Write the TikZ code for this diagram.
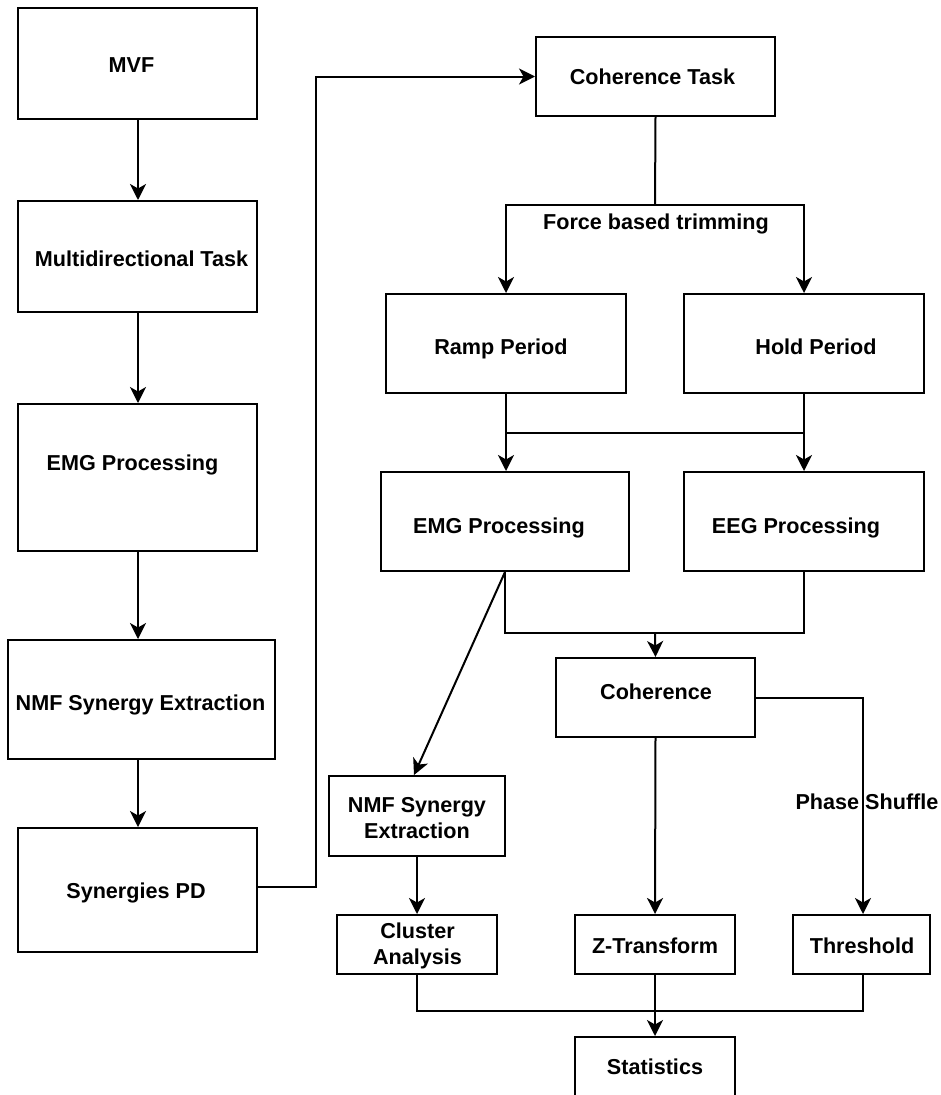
\documentclass[tikz,border=0pt]{standalone}
\usepackage{fontspec}
\setmainfont{Liberation Sans}
\usetikzlibrary{arrows.meta}
\tikzset{
  box/.style={draw=black, line width=2pt, rectangle, inner sep=0pt},
  txt/.style={inner sep=0pt, font=\bfseries\fontsize{21.6}{26}\selectfont, text height=15.5pt, text depth=0pt},
  txttwo/.style={inner sep=0pt, font=\bfseries\fontsize{21.6}{26}\selectfont, align=center},
  conn/.style={draw=black, line width=2pt},
  arr/.style={conn, -{Stealth[length=16pt,width=16pt,inset=4.5pt]}}
}
\begin{document}
\begin{tikzpicture}[x=1pt,y=-1pt]
\useasboundingbox (0,0) rectangle (941,1095);
\clip (0,0) rectangle (941,1095);
\fill[white] (0,0) rectangle (941,1095);
% left column
\node[box, minimum width=239pt, minimum height=111pt] (mvf) at (137.5,63.5) {};
\node[txt] (mvft) at (131.5,65) {MVF};
\node[box, minimum width=239pt, minimum height=111pt] (multi) at (137.5,256.5) {};
\node[txt] (multit) at (141.5,259) {Multidirectional Task};
\node[box, minimum width=239pt, minimum height=147pt] (emgL) at (137.5,477.5) {};
\node[txt] (emgLt) at (132.5,463) {EMG Processing};
\node[box, minimum width=267pt, minimum height=119pt] (nmfL) at (141.5,699.5) {};
\node[txt] (nmfLt) at (140.5,703) {NMF Synergy Extraction};
\node[box, minimum width=239pt, minimum height=124pt] (syn) at (137.5,890) {};
\node[txt] (synt) at (136,891) {Synergies PD};
% right part
\node[box, minimum width=239pt, minimum height=79pt] (cohT) at (655.5,76.5) {};
\node[txt] (cohTt) at (652.5,77) {Coherence Task};
\node[box, minimum width=240pt, minimum height=99pt] (ramp) at (506,343.5) {};
\node[txt] (rampt) at (501,347) {Ramp Period};
\node[box, minimum width=240pt, minimum height=99pt] (hold) at (804,343.5) {};
\node[txt] (holdt) at (816,347) {Hold Period};
\node[box, minimum width=248pt, minimum height=99pt] (emgR) at (505,521.5) {};
\node[txt] (emgRt) at (499,526) {EMG Processing};
\node[box, minimum width=240pt, minimum height=99pt] (eeg) at (804,521.5) {};
\node[txt] (eegt) at (796,526) {EEG Processing};
\node[box, minimum width=199pt, minimum height=79pt] (coh) at (655.5,697.5) {};
\node[txt] (coht) at (656,692) {Coherence};
\node[box, minimum width=176pt, minimum height=80pt] (nmfR) at (417,816) {};
\node[txttwo] (nmfRt) at (417,818) {NMF Synergy\\Extraction};
\node[box, minimum width=160pt, minimum height=59pt] (clu) at (417,944.5) {};
\node[txttwo] (clut) at (417.5,946) {Cluster\\Analysis};
\node[box, minimum width=160pt, minimum height=59pt] (zt) at (655,944.5) {};
\node[txt] (ztt) at (655,946) {Z-Transform};
\node[box, minimum width=137pt, minimum height=59pt] (thr) at (861.5,944.5) {};
\node[txt] (thrt) at (862,946) {Threshold};
\node[box, minimum width=160pt, minimum height=90pt] (stats) at (655,1082) {};
\node[txt] (statst) at (655,1067) {Statistics};
% labels
\node[txt] (force) at (656,222) {Force based trimming};
\node[txt] (phase) at (867,802) {Phase Shuffle};
% coordinates
\coordinate (loopx) at (316,500);
\coordinate (split) at (655,205);
\coordinate (j1) at (0,433);
\coordinate (j2) at (655,633);
\coordinate (j3) at (655,1011);
% left connectors
\draw[arr] (mvf.south -| 138,0) -- (multi.north -| 138,0);
\draw[arr] (multi.south -| 138,0) -- (emgL.north -| 138,0);
\draw[arr] (emgL.south -| 138,0) -- (nmfL.north -| 138,0);
\draw[arr] (nmfL.south -| 138,0) -- (syn.north -| 138,0);
\draw[arr] (syn.east |- 0,887) -| (loopx) |- (cohT.west);
% right connectors
\draw[conn] (cohT.south) -- (split);
\draw[arr] (split) -| (ramp.north);
\draw[arr] (split) -| (hold.north);
\draw[arr] (ramp.south) -- (emgR.north -| ramp.south);
\draw[arr] (hold.south) -- (eeg.north);
\draw[conn] (ramp.south |- j1) -- (hold.south |- j1);
\draw[conn] (emgR.south) |- (j2) -| (eeg.south);
\draw[arr] (j2) -- (coh.north);
\draw[arr] (emgR.south) -- (nmfR.north -| 414,0);
\draw[arr] (nmfR.south) -- (clu.north);
\draw[arr] (coh.south) -- (zt.north);
\draw[arr] (coh.east) -| (thr.north -| 863,0);
\draw[conn] (clu.south) |- (j3) -| (thr.south -| 863,0);
\draw[arr] (zt.south) -- (stats.north);
\end{tikzpicture}
\end{document}
